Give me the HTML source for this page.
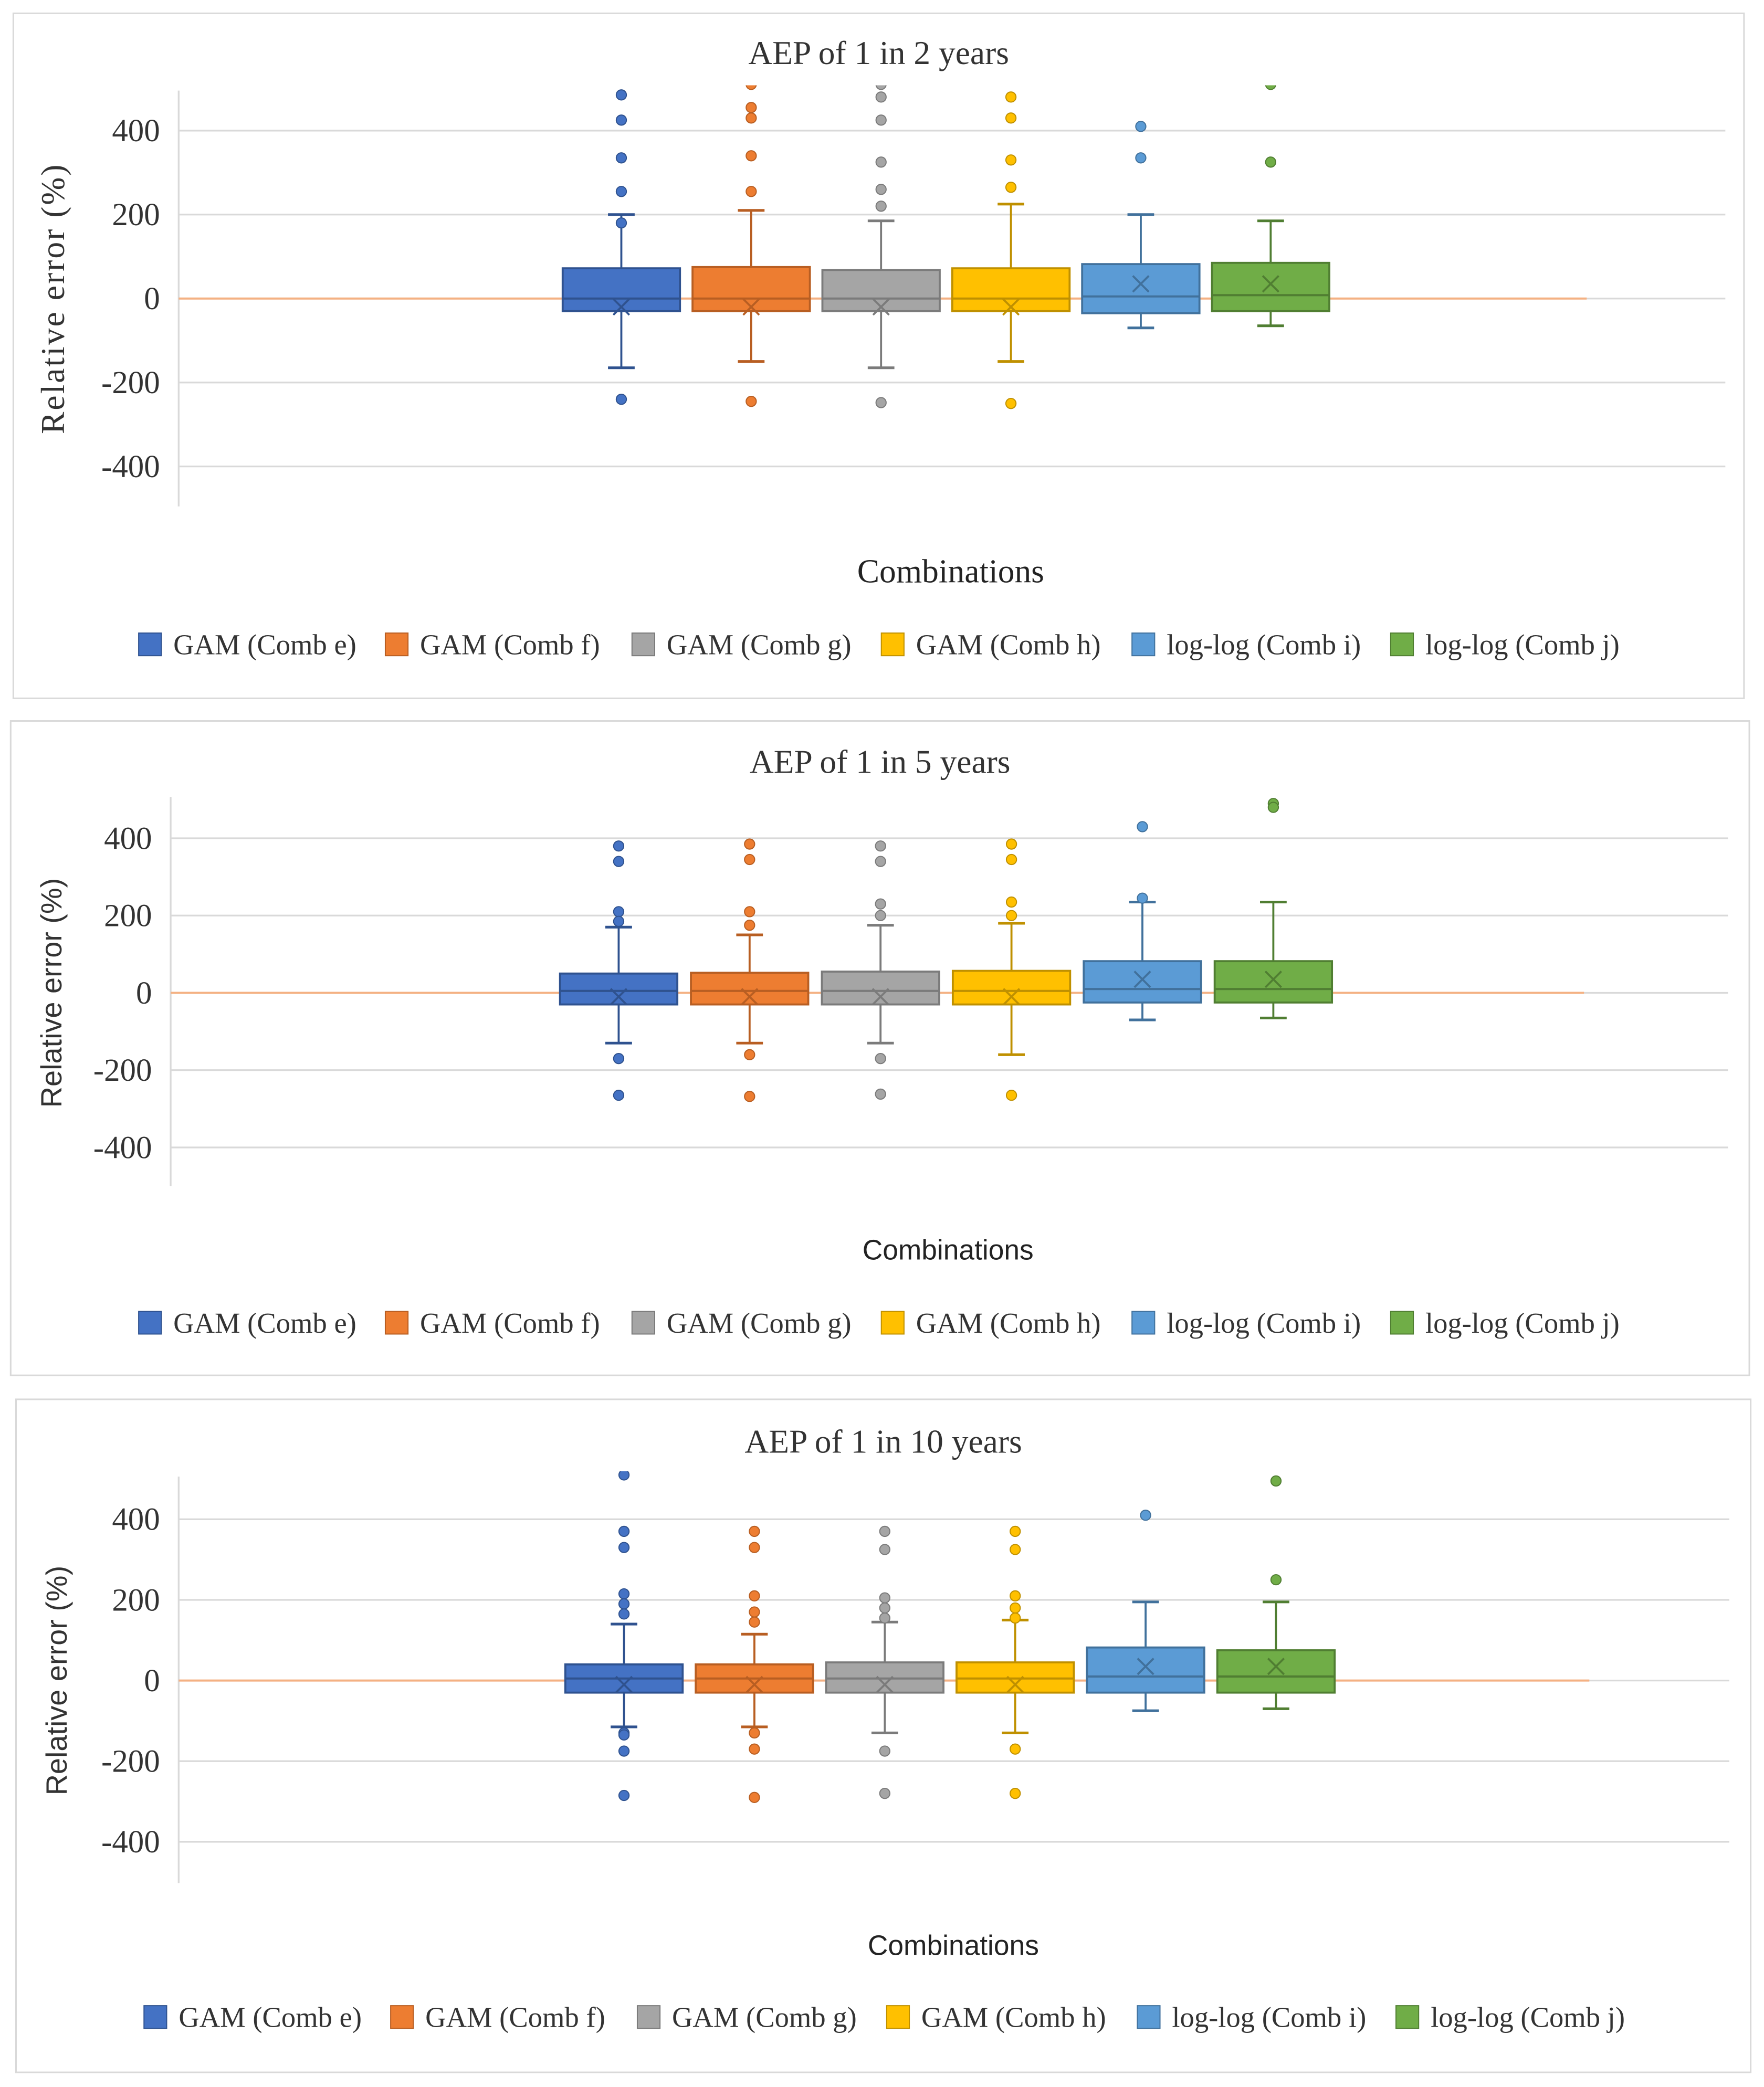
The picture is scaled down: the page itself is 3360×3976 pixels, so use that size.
<!DOCTYPE html>
<html><head><meta charset="utf-8"><style>
html,body{margin:0;padding:0;background:#fff;}
svg{display:block;}
</style></head><body>
<svg id="fig" width="3360" height="3976" viewBox="0 0 1323 1566" preserveAspectRatio="none" xmlns="http://www.w3.org/2000/svg"></svg>
<script>
const categories = ["GAM (Comb e)","GAM (Comb f)","GAM (Comb g)","GAM (Comb h)","log-log (Comb i)","log-log (Comb j)"];
const colors = ["#4472C4","#ED7D31","#A5A5A5","#FFC000","#5B9BD5","#70AD47"];
const strokes = ["#2F528F","#B85E22","#7B7B7B","#BF9000","#41719C","#507E32"];
const yTicks = [400,200,0,-200,-400];
const titles = ["AEP of 1 in 2 years","AEP of 1 in 5 years","AEP of 1 in 10 years"];
// panel 1
const p1_q1 = [-30,-30,-30,-30,-35,-30];
const p1_med = [0,0,0,0,5,8];
const p1_q3 = [72,75,68,72,82,85];
const p1_lo = [-165,-150,-165,-150,-70,-65];
const p1_hi = [200,210,185,225,200,185];
const p1_mean = [-20,-20,-20,-20,35,35];
const p1_out = [[485,425,335,255,180,-240],[510,455,430,340,255,-245],[510,480,425,325,260,220,-248],[480,430,330,265,-250],[410,335],[325,510]];
// panel 2
const p2_q1 = [-30,-30,-30,-30,-25,-25];
const p2_med = [5,5,5,5,10,10];
const p2_q3 = [50,52,55,57,82,82];
const p2_lo = [-130,-130,-130,-160,-70,-65];
const p2_hi = [170,150,175,180,235,235];
const p2_mean = [-10,-10,-10,-10,35,35];
const p2_out = [[380,340,210,185,-170,-265],[385,345,210,175,-160,-268],[380,340,230,200,-170,-262],[385,345,235,200,-265],[430,245],[490,480]];
// panel 3
const p3_q1 = [-30,-30,-30,-30,-30,-30];
const p3_med = [5,5,5,5,10,10];
const p3_q3 = [40,40,45,45,82,75];
const p3_lo = [-115,-115,-130,-130,-75,-70];
const p3_hi = [140,115,145,150,195,195];
const p3_mean = [-10,-10,-10,-10,35,35];
const p3_out = [[510,370,330,215,190,165,-130,-135,-175,-285],[370,330,210,170,145,-130,-170,-290],[370,325,205,180,155,-175,-280],[370,325,210,180,155,-170,-280],[410],[495,250]];

const NS="http://www.w3.org/2000/svg";
const svg=document.getElementById('fig');
function mk(tag,attrs,parent){const e=document.createElementNS(NS,tag);for(const k in attrs)e.setAttribute(k,attrs[k]);(parent||svg).appendChild(e);return e;}

const layouts=[
 {bx:10,by:10,bw:1298,bh:514,ty:48,axX:134,axTop:68,axBot:380,y400:98,y0:224,gridR:1294,zeroR:1190,c0:466,step:97.4,comb:437,combX:713,combSerif:true,ySerif:true,leg:484,legX:[104,289,474,661,849,1043]},
 {bx:8,by:541,bw:1304,bh:491,ty:580,axX:128,axTop:598,axBot:890,y400:629,y0:745,gridR:1296,zeroR:1188,c0:464,step:98.2,comb:945,combX:711,combSerif:false,ySerif:false,leg:993,legX:[104,289,474,661,849,1043]},
 {bx:12,by:1050,bw:1301,bh:505,ty:1090,axX:134,axTop:1108,axBot:1413,y400:1140,y0:1261,gridR:1297,zeroR:1192,c0:468,step:97.8,comb:1467,combX:715,combSerif:false,ySerif:false,leg:1514,legX:[108,293,478,665,853,1047]}
];
const data=[[p1_q1,p1_med,p1_q3,p1_lo,p1_hi,p1_mean,p1_out],[p2_q1,p2_med,p2_q3,p2_lo,p2_hi,p2_mean,p2_out],[p3_q1,p3_med,p3_q3,p3_lo,p3_hi,p3_mean,p3_out]];
const serif='"Liberation Serif", serif', sans='"Liberation Sans", sans-serif';

layouts.forEach((L,pi)=>{
  const g=mk('g',{});
  
  
  const fr=mk('rect',{x:L.bx,y:L.by,width:L.bw,height:L.bh,fill:'#fff',stroke:'#d9d9d9','stroke-width':1.2},g);
  
  
  const t=mk('text',{x:L.bx+L.bw/2+0,y:L.ty,'text-anchor':'middle','font-family':serif,'font-size':25,fill:'#333'},g);
  t.textContent=titles[pi];
  
  
  const sc=(L.y0-L.y400)/400;
  const Y=v=>L.y0-v*sc;
  const X=i=>L.c0+i*L.step;
  yTicks.forEach(v=>{
    const gl=mk('line',{x1:L.axX,x2:L.gridR,y1:Y(v),y2:Y(v),stroke:'#d9d9d9','stroke-width':1.3},g);
    
    
    const tl=mk('text',{x:L.axX-14,y:Y(v)+8,'text-anchor':'end','font-family':serif,'font-size':24,fill:'#333'},g);
    tl.textContent=v;
    
    
  });
  const ax=mk('line',{x1:L.axX,x2:L.axX,y1:L.axTop,y2:L.axBot,stroke:'#d9d9d9','stroke-width':1.3},g);
  
  
  const zl=mk('line',{x1:L.axX,x2:L.zeroR,y1:L.y0,y2:L.y0,stroke:'#F4B183','stroke-width':1.6},g);
  
  
  const yt=mk('text',{x:0,y:0,'text-anchor':'middle','font-family':L.ySerif?serif:sans,'font-size':L.ySerif?25:22,'letter-spacing':L.ySerif?1.2:0,fill:'#333',transform:`translate(${L.bx+38},${(L.y400+Y(-400))/2}) rotate(-90)`},g);
  yt.textContent='Relative error (%)';
  
  
  const cid='clip'+pi;
  const cp=mk('clipPath',{id:cid},g);mk('rect',{x:L.axX,y:L.axTop-4,width:L.gridR-L.axX,height:L.axBot-L.axTop+4},cp);
  const D=data[pi];const hw=44;
  categories.forEach((c,i)=>{
    const bg=mk('g',{'clip-path':`url(#${cid})`},g);
    
    
    const x=X(i),col=colors[i],st=strokes[i];
    mk('line',{x1:x,x2:x,y1:Y(D[4][i]),y2:Y(D[2][i]),stroke:st,'stroke-width':1.5},bg);
    mk('line',{x1:x,x2:x,y1:Y(D[0][i]),y2:Y(D[3][i]),stroke:st,'stroke-width':1.5},bg);
    mk('line',{x1:x-10,x2:x+10,y1:Y(D[4][i]),y2:Y(D[4][i]),stroke:st,'stroke-width':2},bg);
    mk('line',{x1:x-10,x2:x+10,y1:Y(D[3][i]),y2:Y(D[3][i]),stroke:st,'stroke-width':2},bg);
    mk('rect',{x:x-hw,y:Y(D[2][i]),width:2*hw,height:Y(D[0][i])-Y(D[2][i]),fill:col,stroke:st,'stroke-width':1.5},bg);
    mk('line',{x1:x-hw,x2:x+hw,y1:Y(D[1][i]),y2:Y(D[1][i]),stroke:st,'stroke-width':1.6},bg);
    const my=Y(D[5][i]);
    mk('path',{d:`M${x-6} ${my-6}L${x+6} ${my+6}M${x+6} ${my-6}L${x-6} ${my+6}`,stroke:st,'stroke-width':1.5,fill:'none'},bg);
    D[6][i].forEach(v=>{mk('circle',{cx:x,cy:Y(v),r:3.8,fill:col,stroke:st,'stroke-width':0.8},bg);});
  });
  const ct=mk('text',{x:L.combX,y:L.comb,'text-anchor':'middle','font-family':L.combSerif?serif:sans,'font-size':L.combSerif?25:21,fill:'#222'},g);
  ct.textContent='Combinations';
  
  
  categories.forEach((c,i)=>{
    const lg=mk('g',{},g);
    
    
    mk('rect',{x:L.legX[i],y:L.leg-9,width:17,height:17,fill:colors[i],stroke:strokes[i],'stroke-width':0.8},lg);
    const lt=mk('text',{x:L.legX[i]+26,y:L.leg+7,'font-family':serif,'font-size':21.5,fill:'#333'},lg);
    lt.textContent=c;
  });
});
</script>
</body></html>
